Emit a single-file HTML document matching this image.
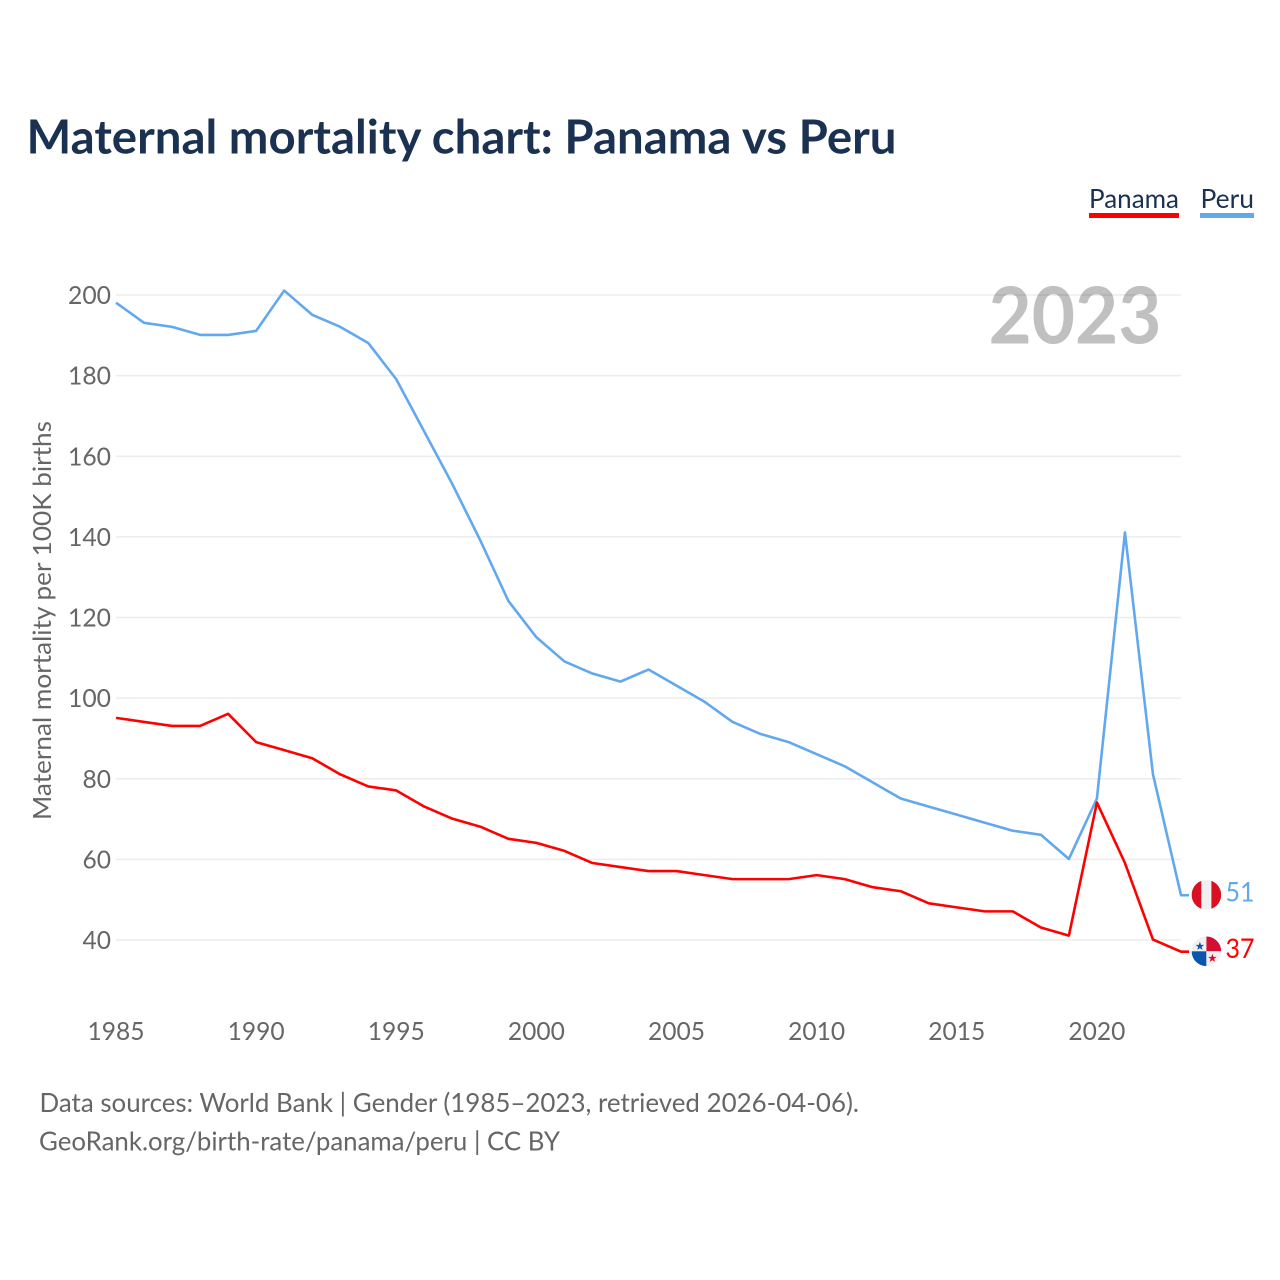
<!DOCTYPE html>
<html lang="en">
<head>
<meta charset="utf-8">
<title>Maternal mortality chart: Panama vs Peru</title>
<style>
html,body{margin:0;padding:0;background:#fff;width:1280px;height:1280px;overflow:hidden}
svg{display:block}
text{font-family:"Lato","Carlito","Liberation Sans",sans-serif}
</style>
</head>
<body>
<svg id="chart" width="1280" height="1280" viewBox="0 0 1280 1280" xmlns="http://www.w3.org/2000/svg">
  <text x="26.5" y="153.5" font-size="46.5" font-weight="700" fill="#1a3151" textLength="870" lengthAdjust="spacingAndGlyphs">Maternal mortality chart: Panama vs Peru</text>

  <g>
    <g>
      <text x="1089" y="208" font-size="26.5" fill="#1a3151" textLength="90" lengthAdjust="spacingAndGlyphs">Panama</text>
      <rect x="1089" y="213" width="90" height="5" fill="#ff0000"></rect>
    </g>
    <g>
      <text x="1200.5" y="208" font-size="26.5" fill="#1a3151" textLength="53.5" lengthAdjust="spacingAndGlyphs">Peru</text>
      <rect x="1200" y="213" width="54" height="5" fill="#62a8ee"></rect>
    </g>
  </g>

  <text x="988.5" y="343.5" font-size="79" font-weight="700" fill="#c0c0c0" textLength="173" lengthAdjust="spacingAndGlyphs">2023</text>

  <g id="grid"></g>
  <g id="yticks"></g>
  <g id="xticks"></g>

  <text transform="translate(51,820) rotate(-90)" x="0" y="0" font-size="25.5" fill="#666666" textLength="399" lengthAdjust="spacingAndGlyphs">Maternal mortality per 100K births</text>

  <g id="series"></g>
  <g id="ends"></g>

  <text x="39.5" y="1112" font-size="26.5" fill="#666666" textLength="819.5" lengthAdjust="spacingAndGlyphs">Data sources: World Bank | Gender (1985–2023, retrieved 2026-04-06).</text>
  <text x="39" y="1150.5" font-size="26.5" fill="#666666" textLength="521" lengthAdjust="spacingAndGlyphs">GeoRank.org/birth-rate/panama/peru | CC BY</text>
</svg>
<script>
const years = [1985,1986,1987,1988,1989,1990,1991,1992,1993,1994,1995,1996,1997,1998,1999,2000,2001,2002,2003,2004,2005,2006,2007,2008,2009,2010,2011,2012,2013,2014,2015,2016,2017,2018,2019,2020,2021,2022,2023];
const peruValues = [198,193,192,190,190,191,201,195,192,188,179,166,153,139,124,115,109,106,104,107,103,99,94,91,89,86,83,79,75,73,71,69,67,66,60,75,141,81,51];
const panamaValues = [95,94,93,93,96,89,87,85,81,78,77,73,70,68,65,64,62,59,58,57,57,56,55,55,55,56,55,53,52,49,48,47,47,43,41,74,59,40,37];
const yTickValues = [40,60,80,100,120,140,160,180,200];
const xTickValues = [1985,1990,1995,2000,2005,2010,2015,2020];

const NS = 'http://www.w3.org/2000/svg';
const xScale = function (year) { return 116 + (year - 1985) * (1181 - 116) / 38; };
const yScale = function (v) { return 940 - (v - 40) * (940 - 295) / 160; };

function make(tag, attrs, parent, content) {
  const el = document.createElementNS(NS, tag);
  Object.keys(attrs).forEach(function (k) { el.setAttribute(k, attrs[k]); });
  if (content !== undefined) el.textContent = content;
  parent.appendChild(el);
  return el;
}

const gridG = document.getElementById('grid');
const yG = document.getElementById('yticks');
const xG = document.getElementById('xticks');
const seriesG = document.getElementById('series');
const endsG = document.getElementById('ends');

yTickValues.forEach(function (v) {
  const line = make('line', {x1: 116, x2: 1181, y1: yScale(v), y2: yScale(v), stroke: '#000', 'stroke-opacity': 0.075, 'stroke-width': 1.6}, gridG);
  
  
  const label = make('text', {x: 111, y: yScale(v) + 9, 'text-anchor': 'end', 'font-size': 25.5, fill: '#666666', textLength: String(v).length === 3 ? 43 : 28.5, lengthAdjust: 'spacingAndGlyphs'}, yG, String(v));
  
  
});

xTickValues.forEach(function (yr) {
  const label = make('text', {x: xScale(yr), y: 1040, 'text-anchor': 'middle', 'font-size': 25.5, fill: '#666666', textLength: 57, lengthAdjust: 'spacingAndGlyphs'}, xG, String(yr));
  
  
});

function drawLine(values, color, name) {
  let d = '';
  values.forEach(function (v, i) {
    d += (i ? 'L' : 'M') + xScale(years[i]).toFixed(2) + ' ' + (yScale(v) - 0.4).toFixed(2);
  });
  const last = values[values.length - 1];
  d += 'L' + (xScale(years[years.length - 1]) + 8).toFixed(2) + ' ' + (yScale(last) - 0.4).toFixed(2);
  const path = make('path', {d: d, fill: 'none', stroke: color, 'stroke-width': 2.6, 'stroke-linejoin': 'round'}, seriesG);
  
  
}
drawLine(peruValues, '#62a8ee', 'peru-line');
drawLine(panamaValues, '#ff0000', 'panama-line');

function star(cx, cy, r, color, parent) {
  let pts = '';
  for (let i = 0; i < 10; i++) {
    const a = -Math.PI / 2 + i * Math.PI / 5;
    const rr = i % 2 ? r * 0.4 : r;
    pts += (cx + rr * Math.cos(a)).toFixed(2) + ',' + (cy + rr * Math.sin(a)).toFixed(2) + ' ';
  }
  return make('polygon', {points: pts, fill: color}, parent);
}

const fx = 1206.4;
const peruY = yScale(peruValues[peruValues.length - 1]) - 0.8;
const panamaY = yScale(panamaValues[panamaValues.length - 1]) - 0.8;
const R = 14.8;

const peruFlag = make('g', {}, endsG);


const peruClip = make('clipPath', {id: 'clip-peru'}, peruFlag);
make('circle', {cx: fx, cy: peruY, r: R}, peruClip);
const peruInner = make('g', {'clip-path': 'url(#clip-peru)'}, peruFlag);
make('rect', {x: fx - R, y: peruY - R, width: 9.8, height: 2 * R, fill: '#d91023'}, peruInner);
make('rect', {x: fx - 5, y: peruY - R, width: 10, height: 2 * R, fill: '#f0f0f0'}, peruInner);
make('rect', {x: fx + 5, y: peruY - R, width: 9.8, height: 2 * R, fill: '#d91023'}, peruInner);

const panFlag = make('g', {}, endsG);


const panClip = make('clipPath', {id: 'clip-panama'}, panFlag);
make('circle', {cx: fx, cy: panamaY, r: R}, panClip);
const panInner = make('g', {'clip-path': 'url(#clip-panama)'}, panFlag);
make('rect', {x: fx - R, y: panamaY - R, width: R, height: R, fill: '#f0f0f0'}, panInner);
make('rect', {x: fx, y: panamaY - R, width: R, height: R, fill: '#d21034'}, panInner);
make('rect', {x: fx - R, y: panamaY, width: R, height: R, fill: '#0a55ad'}, panInner);
make('rect', {x: fx, y: panamaY, width: R, height: R, fill: '#f0f0f0'}, panInner);
star(fx - 6.5, panamaY - 5, 4.5, '#0a55ad', panInner);
star(fx + 6, panamaY + 7, 4.5, '#d21034', panInner);

const peruVal = make('text', {x: 1225.5, y: peruY + 6.5, 'font-size': 27, fill: '#62a8ee', textLength: 29, lengthAdjust: 'spacingAndGlyphs'}, endsG, String(peruValues[peruValues.length - 1]));


const panVal = make('text', {x: 1225.5, y: panamaY + 6.5, 'font-size': 27, fill: '#ff0000', textLength: 29, lengthAdjust: 'spacingAndGlyphs'}, endsG, String(panamaValues[panamaValues.length - 1]));


</script>
</body>
</html>
